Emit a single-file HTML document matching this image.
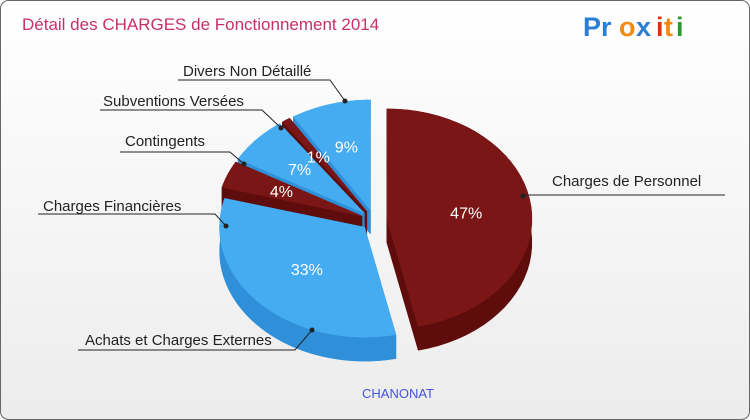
<!DOCTYPE html>
<html><head><meta charset="utf-8"><style>
body{margin:0;background:#fff;font-family:"Liberation Sans",sans-serif}
#wrap{position:relative;width:750px;height:420px;overflow:hidden}
</style></head><body>
<div id="wrap">
<svg id="svg" width="750" height="420" xmlns="http://www.w3.org/2000/svg">
<defs><linearGradient id="bg" x1="0" y1="0" x2="0" y2="1"><stop offset="0" stop-color="#ffffff"/><stop offset="1" stop-color="#ececec"/></linearGradient></defs>
<rect x="0.5" y="0.5" width="749" height="419" rx="8" fill="url(#bg)" stroke="#666" stroke-width="1"/>
<text x="22" y="30" font-size="17" fill="#c8306a">Détail des CHARGES de Fonctionnement 2014</text>
<g font-size="27" font-weight="bold" font-family="Liberation Sans, sans-serif">
<text x="583" y="36" fill="#2a7fd4">P</text><text x="601" y="36" fill="#2a7fd4">r</text><text x="619" y="36" fill="#f08a10">o</text><text x="636" y="36" fill="#2a7fd4">x</text><text x="656" y="36" fill="#e03010">i</text><text x="664" y="36" fill="#f08a10">t</text><text x="676" y="36" fill="#2a9a30">i</text>
</g>
<g id="pie"></g>
<g id="labels"></g>
<text x="398" y="398" font-size="13" fill="#4455dd" text-anchor="middle">CHANONAT</text>
</svg>
</div>
<script>
const categories=["Charges de Personnel","Achats et Charges Externes","Charges Financières","Contingents","Subventions Versées","Divers Non Détaillé"];
const values=[47,33,4,7,1,9];
const pctLabels=["47%","33%","4%","7%","1%","9%"];
const NS="http://www.w3.org/2000/svg";
const cx=374,cy=220,rx=145,ry=110,depth=24,explode=13;
const tops=["#7b1616","#45acf2"],sides=["#5e0c0c","#2f8fd8"];
function pt(a,r0,ox,oy,dy){return [ox+rx*r0*Math.cos(a),oy+ry*r0*Math.sin(a)+(dy||0)];}
const total=values.reduce((a,b)=>a+b,0);
let start=-Math.PI/2;const slices=[];
values.forEach((v,i)=>{const a0=start,a1=start+v/total*2*Math.PI;start=a1;const m=(a0+a1)/2;
 slices.push({i,a0,a1,m,ox:cx+explode*Math.cos(m),oy:cy+explode*0.8*Math.sin(m)});});
function arc(s,a0,a1,dy,rev){const n=40;const p=[];for(let k=0;k<=n;k++){const a=rev?a1-(a1-a0)*k/n:a0+(a1-a0)*k/n;p.push(pt(a,1,s.ox,s.oy,dy));}return p;}
const g=document.getElementById('pie');
function poly(pts,fill,name){const e=document.createElementNS(NS,'path');e.setAttribute('d','M'+pts.map(p=>p[0].toFixed(1)+','+p[1].toFixed(1)).join('L')+'Z');e.setAttribute('fill',fill);e.setAttribute('stroke',fill);e.setAttribute('stroke-width','0.5');


g.appendChild(e);}
const order=slices.slice().sort((a,b)=>Math.sin(a.m)-Math.sin(b.m));
order.forEach(s=>{const c=s.i%2===0?0:1;const ap=[s.ox,s.oy],apb=[s.ox,s.oy+depth];
 [s.a0,s.a1].forEach(a=>{const e=pt(a,1,s.ox,s.oy);poly([ap,e,[e[0],e[1]+depth],apb],sides[c],'slice-side-'+s.i);});
 poly(arc(s,s.a0,s.a1,0,false).concat(arc(s,s.a0,s.a1,depth,true)),sides[c],'slice-wall-'+s.i);
});
order.forEach(s=>{const c=s.i%2===0?0:1;poly([[s.ox,s.oy]].concat(arc(s,s.a0,s.a1,0,false)),tops[c],'slice-top-'+s.i);});
slices.forEach(s=>{const r=s.i===0?0.55:(s.i===1?0.55:0.6);const p=pt(s.m,r,s.ox,s.oy);
 const t=document.createElementNS(NS,'text');t.setAttribute('x',p[0]);t.setAttribute('y',p[1]+6);t.setAttribute('text-anchor','middle');t.setAttribute('font-size','16');t.setAttribute('fill','#fff');t.textContent=pctLabels[s.i];
 
 
 g.appendChild(t);});
const lab=[[552,186,530,725,195,523,196],[85,345,78,295,350,312,330],[43,211,38,215,214,226,226],[125,146,120,230,152,244,164],[103,106,100,262,110,281,128],[183,76,178,330,80,345,101]];
const L=document.getElementById('labels');
[0,1,2,3,4,5].forEach(i=>{const d=lab[i];
 const t=document.createElementNS(NS,'text');t.setAttribute('x',d[0]);t.setAttribute('y',d[1]);t.setAttribute('font-size','15');t.setAttribute('fill','#222');t.textContent=categories[i];
 
 
 L.appendChild(t);
 const ln=document.createElementNS(NS,'path');
 const near=i===0?d[2]:d[3];const far=i===0?d[3]:d[2];
 ln.setAttribute('d',`M${far},${d[4]}L${near},${d[4]}L${d[5]},${d[6]}`);ln.setAttribute('stroke','#222');ln.setAttribute('fill','none');ln.setAttribute('stroke-width','1');
 
 
 L.appendChild(ln);
 const dot=document.createElementNS(NS,'circle');dot.setAttribute('cx',d[5]);dot.setAttribute('cy',d[6]);dot.setAttribute('r','2.5');dot.setAttribute('fill','#222');
 
 
 L.appendChild(dot);});
</script>
</body></html>
